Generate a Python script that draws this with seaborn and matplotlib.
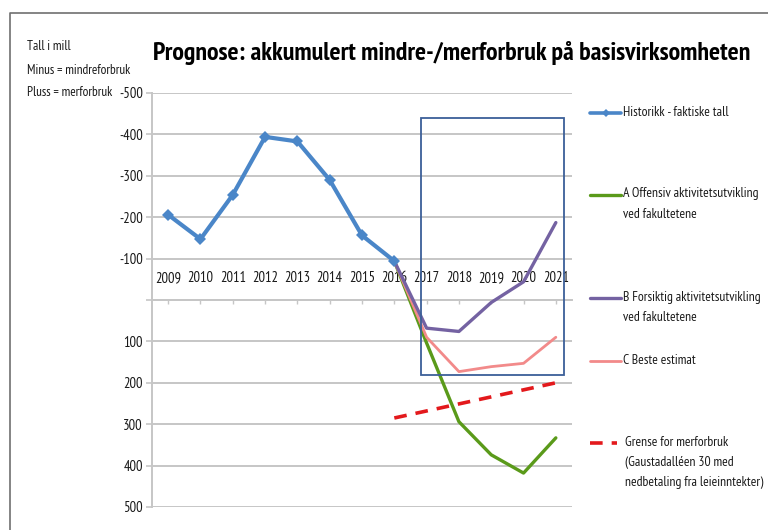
import matplotlib
matplotlib.use("Agg")
import matplotlib.pyplot as plt
import seaborn as sns
import pandas as pd
from matplotlib.lines import Line2D
from matplotlib.patches import Rectangle
from matplotlib.ticker import FuncFormatter, FixedLocator

# ---------------- data ----------------
years = ["2009", "2010", "2011", "2012", "2013", "2014", "2015", "2016",
         "2017", "2018", "2019", "2020", "2021"]
hist_years = ["2009", "2010", "2011", "2012", "2013", "2014", "2015", "2016"]
hist_vals = [-206, -147, -254, -394, -383, -290, -156, -94]
fc_years = ["2016", "2017", "2018", "2019", "2020", "2021"]
a_vals = [-94, 104, 294, 374, 418, 333]
b_vals = [-94, 68, 76, 6, -44, -187]
c_vals = [-94, 90, 173, 161, 153, 90]
limit_vals = [285, 268, 251, 234, 217, 200]
y_ticks = [-500, -400, -300, -200, -100, 0, 100, 200, 300, 400, 500]

labels = ["Historikk - faktiske tall",
          "A Offensiv aktivitetsutvikling\nved fakultetene",
          "B Forsiktig aktivitetsutvikling\nved fakultetene",
          "C Beste estimat",
          "Grense for merforbruk\n(Gaustadalléen 30 med\nnedbetaling fra leieinntekter)"]
title = "Prognose: akkumulert mindre-/merforbruk på basisvirksomheten"
note_lines = ["Tall i mill", "Minus = mindreforbruk", "Pluss = merforbruk"]

pos = {y: i for i, y in enumerate(years)}
hist_df = pd.DataFrame({"x": [pos[y] for y in hist_years], "v": hist_vals})
fc_df = pd.DataFrame({"x": [pos[y] for y in fc_years], "A": a_vals,
                      "B": b_vals, "C": c_vals, "L": limit_vals})

# ---------------- style ----------------
sns.set_theme(style="white")
plt.rcParams["font.family"] = ["PT Sans Narrow", "DejaVu Sans"]

W, H = 768, 530
fig = plt.figure(figsize=(W / 100, H / 100), dpi=100)
ax = fig.add_axes([152 / W, 1 - 507 / H, 420 / W, 414 / H])

col_hist = "#4a86c8"
col_a = "#5a9a1a"
col_b = "#7462a2"
col_c = "#f28a8a"
col_l = "#e3191c"
txt_col = "#1a1a1a"

sns.lineplot(data=fc_df, x="x", y="A", ax=ax, color=col_a, linewidth=2.4,
             zorder=3)
sns.lineplot(data=fc_df, x="x", y="C", ax=ax, color=col_c, linewidth=2.0,
             zorder=4)
sns.lineplot(data=fc_df, x="x", y="B", ax=ax, color=col_b, linewidth=2.4,
             zorder=5)
sns.lineplot(data=fc_df, x="x", y="L", ax=ax, color=col_l, linewidth=2.6,
             dashes=False, zorder=3)
ax.lines[-1].set_linestyle((0, (3.5, 2.5)))
sns.lineplot(data=hist_df, x="x", y="v", ax=ax, color=col_hist, linewidth=3.0,
             marker="D", markersize=6.5, markeredgewidth=0, zorder=6)

ax.set_xlim(-0.5, len(years) - 0.5)
ax.set_ylim(500, -500)
ax.set_xlabel("")
ax.set_ylabel("")

# grid / axes
ax.yaxis.set_major_locator(FixedLocator(y_ticks))
ax.yaxis.set_major_formatter(FuncFormatter(lambda v, p: "" if v == 0 else f"{int(v)}"))
ax.grid(axis="y", color="#c6c6c6", linewidth=1.4)
ax.grid(axis="x", visible=False)
for s in ["top", "right"]:
    ax.spines[s].set_visible(False)
ax.spines["left"].set_color("#c6c6c6")
ax.spines["left"].set_linewidth(1.4)
ax.spines["bottom"].set_position(("data", 0))
ax.spines["bottom"].set_color("#c6c6c6")
ax.spines["bottom"].set_linewidth(1.4)
ax.set_xticks(range(len(years)))
ax.set_xticklabels(years)
ax.tick_params(axis="x", direction="out", length=3, width=1, color="#c6c6c6",
               pad=-24, labelsize=10.5, labelcolor=txt_col, bottom=True)
ax.tick_params(axis="y", direction="out", length=4, width=1.2, color="#c6c6c6",
               pad=2.5, labelsize=10.5, labelcolor=txt_col, left=True)
ax.set_facecolor("white")

# highlight rectangle
ax.add_patch(Rectangle((7.84, -440), 12.25 - 7.84, 181 + 440, fill=False,
                       edgecolor="#3c5f98", linewidth=1.3, zorder=7,
                       clip_on=False))

# title and note
fig.text(452 / W, 1 - 53 / H, title, ha="center", va="center",
         fontsize=18.75, fontweight="bold", color="black")
for i, t in enumerate(note_lines):
    fig.text(27 / W, 1 - (47 + 23 * i) / H, t, ha="left", va="center",
             fontsize=9.5, color=txt_col)

# figure border (left and top)
fig.add_artist(Line2D([10 / W, 10 / W, 1], [0, 1 - 13 / H, 1 - 13 / H],
                      transform=fig.transFigure, color="#707070",
                      linewidth=1.2))

# manual legend
leg_y = [113, 195, 298, 361, 443]
styles = [dict(color=col_hist, lw=2.6, ls="-", marker="D", ms=4.5, x1=621),
          dict(color=col_a, lw=2.4, ls="-", x1=621),
          dict(color=col_b, lw=2.4, ls="-", x1=621),
          dict(color=col_c, lw=2.0, ls="-", x1=621),
          dict(color=col_l, lw=2.6, ls=(0, (3.5, 2.5)), x1=617)]
for y, lab, st in zip(leg_y, labels, styles):
    yf = 1 - y / H
    kw = dict(color=st["color"], linewidth=st["lw"], linestyle=st["ls"],
              transform=fig.transFigure)
    fig.add_artist(Line2D([590 / W, st["x1"] / W], [yf, yf], **kw))
    if "marker" in st:
        fig.add_artist(Line2D([605.5 / W], [yf], marker="D", markersize=st["ms"],
                              color=st["color"], markeredgewidth=0,
                              transform=fig.transFigure))
    x0 = 625 if y == 443 else 623
    fig.text(x0 / W, yf + 7.5 / H, lab, ha="left", va="top", fontsize=9.8,
             color=txt_col, linespacing=1.72)

fig.savefig("out.png", dpi=100, facecolor="white")
